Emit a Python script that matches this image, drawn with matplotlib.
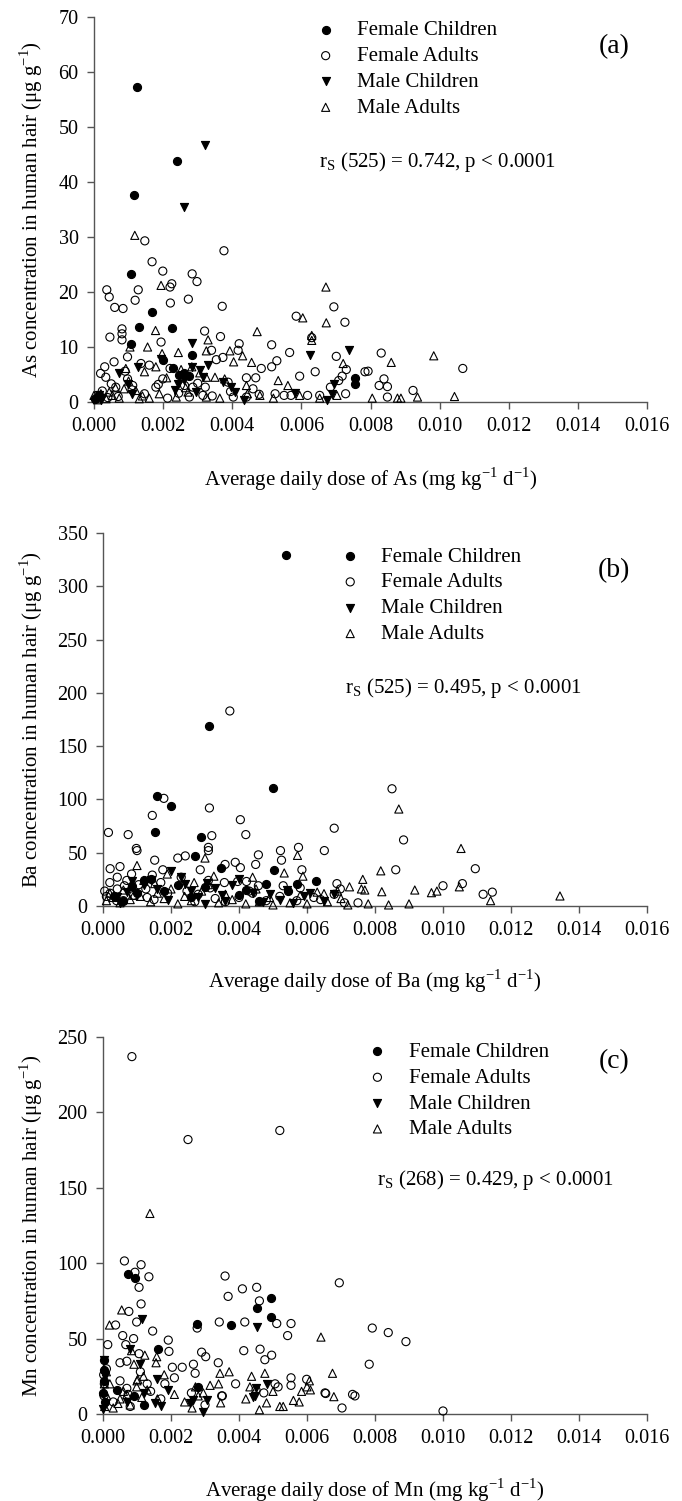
import matplotlib
matplotlib.use("Agg")
import matplotlib.pyplot as plt
from matplotlib.ticker import FormatStrFormatter, MultipleLocator

plt.rcParams['font.family'] = ['Liberation Serif', 'DejaVu Serif']
plt.rcParams['mathtext.fontset'] = 'custom'
plt.rcParams['mathtext.rm'] = 'Liberation Serif'

# ---------------- (a) As ----------------
as_fc_x = [0.00125, 0.00116, 0.00241, 0.00107, 0.00167, 0.00129, 0.00225, 0.00107, 0.00284, 0.00200,
           0.00228, 0.00247, 0.00275, 0.00754, 0.00754, 0.00015, 0.00002, 0.00260]
as_fc_y = [57.3, 37.7, 43.8, 23.2, 16.4, 13.6, 13.4, 10.6, 8.6, 7.6, 6.2, 4.9, 4.7, 4.4, 3.3, 1.2, 0.6, 5.2]

as_fa_x = [0.00037, 0.00044, 0.00060, 0.00084, 0.00046, 0.00081, 0.00081, 0.00081, 0.00119, 0.00128,
           0.00147, 0.00168, 0.00199, 0.00220, 0.00225, 0.00221, 0.00273, 0.00284, 0.00298, 0.00371,
           0.00376, 0.00320, 0.00366, 0.00420, 0.00194, 0.00514, 0.00585, 0.00630, 0.00694, 0.00726,
           0.00566, 0.00514, 0.00529, 0.00484, 0.00468, 0.00441, 0.00595, 0.00640, 0.00701, 0.00718,
           0.00730, 0.00708, 0.00684, 0.00784, 0.00793, 0.00831, 0.00839, 0.00825, 0.00849, 0.00849,
           0.00923, 0.01067, 0.00354, 0.00373, 0.00340, 0.00417, 0.00058, 0.00097, 0.00031, 0.00019,
           0.00034, 0.00050, 0.00063, 0.00136, 0.00160, 0.00179, 0.00199, 0.00220, 0.00262, 0.00286,
           0.00322, 0.00315, 0.00388, 0.00403, 0.00478, 0.00524, 0.00550, 0.00570, 0.00618, 0.00653,
           0.00728, 0.00146, 0.00112, 0.00097, 0.00213, 0.00276, 0.00441, 0.00005, 0.00024, 0.00070,
           0.00110, 0.00186, 0.00245, 0.00300, 0.00342, 0.00395, 0.00460, 0.00040, 0.00090]
as_fa_y = [20.4, 19.1, 17.2, 17.0, 11.8, 13.3, 12.4, 11.3, 18.5, 20.4,
           29.3, 25.5, 23.8, 20.9, 21.5, 18.0, 18.7, 23.3, 21.9, 17.4,
           27.5, 12.9, 11.9, 10.6, 10.9, 10.4, 15.6, 11.7, 17.3, 14.5,
           9.0, 6.4, 7.5, 6.1, 4.4, 4.4, 4.7, 5.5, 8.3, 4.7,
           5.9, 3.9, 2.7, 5.5, 5.6, 8.9, 4.2, 3.0, 2.8, 0.9,
           2.1, 6.1, 7.7, 8.1, 9.4, 9.4, 7.3, 8.2, 6.4, 5.2,
           4.5, 3.3, 2.7, 7.0, 6.7, 2.7, 4.2, 6.1, 3.0, 2.7,
           2.7, 1.2, 3.6, 0.9, 1.4, 1.5, 1.2, 1.2, 1.2, 1.2,
           1.5, 1.5, 3.0, 4.2, 0.7, 0.9, 0.9, 0.6, 2.0, 1.0,
           2.2, 3.2, 1.6, 3.4, 1.1, 1.9, 2.4, 0.8, 5.6]

as_mc_x = [0.00322, 0.00259, 0.00284, 0.00626, 0.00737, 0.00128, 0.00071, 0.00097, 0.00109, 0.00233,
           0.00243, 0.00284, 0.00306, 0.00315, 0.00296, 0.00373, 0.00395, 0.00407, 0.00435, 0.00582,
           0.00674, 0.00689, 0.00694, 0.00015, 0.00020, 0.00194, 0.00260, 0.00330]
as_mc_y = [46.8, 35.5, 10.8, 8.5, 9.4, 6.4, 5.2, 3.3, 1.5, 2.1,
           3.3, 6.4, 5.8, 4.5, 1.8, 3.6, 2.8, 1.9, 0.3, 1.6,
           0.4, 1.5, 3.3, 1.2, 0.3, 7.9, 4.0, 6.8]

as_ma_x = [0.00118, 0.00194, 0.00671, 0.00604, 0.00672, 0.00630, 0.00630, 0.00472, 0.00330, 0.00178,
           0.00155, 0.00104, 0.00244, 0.00197, 0.00325, 0.00393, 0.00430, 0.00404, 0.00456, 0.00721,
           0.00860, 0.00983, 0.00533, 0.00561, 0.00179, 0.00146, 0.00092, 0.00121, 0.00087, 0.00044,
           0.00020, 0.00000, 0.00252, 0.00283, 0.00325, 0.00350, 0.00378, 0.00441, 0.00444, 0.00480,
           0.00519, 0.00595, 0.00653, 0.00703, 0.00805, 0.00888, 0.00936, 0.01043, 0.00878, 0.00325,
           0.00364, 0.00238, 0.00160, 0.00131, 0.00073, 0.00053, 0.00272, 0.00189, 0.00306, 0.00010,
           0.00035, 0.00062, 0.00100, 0.00140, 0.00210, 0.00265]
as_ma_y = [30.3, 21.2, 20.9, 15.3, 14.4, 12.1, 11.2, 12.8, 11.3, 13.0,
           10.0, 10.0, 9.0, 8.8, 9.3, 9.3, 8.4, 7.3, 7.2, 7.0,
           7.2, 8.4, 3.9, 3.0, 6.4, 5.5, 6.1, 2.1, 2.4, 1.8,
           1.5, 1.2, 5.9, 6.4, 4.5, 4.5, 4.2, 3.0, 1.5, 1.2,
           0.7, 1.2, 0.7, 1.2, 0.7, 0.7, 0.9, 1.0, 0.7, 0.9,
           0.7, 0.9, 0.7, 0.6, 0.7, 1.2, 1.8, 1.5, 5.3, 0.4,
           0.6, 2.6, 3.8, 1.1, 4.4, 2.6]

# ---------------- (b) Ba ----------------
ba_fc_x = [0.00538, 0.00312, 0.00160, 0.00200, 0.00500, 0.00152, 0.00289, 0.00271, 0.00347, 0.00502,
           0.00478, 0.00572, 0.00625, 0.00544, 0.00032, 0.00084, 0.00120, 0.00180, 0.00220, 0.00400,
           0.00060, 0.00100, 0.00140, 0.00260, 0.00300, 0.00420, 0.00460]
ba_fc_y = [329, 169, 103, 94, 111, 69, 65, 47, 36, 34,
           21, 21, 23, 14, 9, 19, 24, 14, 20, 10,
           5, 12, 25, 8, 18, 15, 5]

ba_fa_x = [0.00373, 0.00850, 0.00179, 0.00145, 0.00313, 0.00404, 0.00420, 0.00320, 0.00016, 0.00074,
           0.00680, 0.00884, 0.00651, 0.00575, 0.00522, 0.00525, 0.00457, 0.00449, 0.00098, 0.00100,
           0.00152, 0.00220, 0.00242, 0.00310, 0.00310, 0.00021, 0.00050, 0.00042, 0.00145, 0.00084,
           0.00176, 0.00286, 0.00359, 0.00389, 0.00404, 0.00396, 0.00422, 0.00430, 0.00457, 0.00585,
           0.00580, 0.00530, 0.00688, 0.00698, 0.00861, 0.01000, 0.01095, 0.01057, 0.01118, 0.01145,
           0.00042, 0.00105, 0.00315, 0.00357, 0.00247, 0.00126, 0.00063, 0.00021, 0.00005, 0.00010,
           0.00060, 0.00150, 0.00270, 0.00330, 0.00480, 0.00640, 0.00750, 0.00020, 0.00040, 0.00070,
           0.00090, 0.00130, 0.00170, 0.00190, 0.00230, 0.00280, 0.00310, 0.00360, 0.00400, 0.00440,
           0.00520, 0.00570, 0.00620, 0.00680, 0.00710]
ba_fa_y = [183, 110, 101, 85, 92, 81, 67, 66, 69, 67,
           73, 62, 52, 55, 52, 43, 48, 39, 54, 52,
           43, 45, 47, 55, 52, 35, 37, 27, 29, 30,
           34, 34, 39, 41, 36, 23, 23, 14, 19, 34,
           17, 19, 21, 16, 34, 19, 35, 21, 11, 13,
           16, 20, 17, 22, 14, 16, 19, 12, 14, 9,
           5, 6, 4, 7, 5, 6, 3, 22, 5, 24,
           10, 8, 22, 12, 27, 11, 24, 4, 8, 12,
           9, 5, 8, 11, 3]

ba_mc_x = [0.00200, 0.00084, 0.00400, 0.00490, 0.00590, 0.00610, 0.00680, 0.00120, 0.00160, 0.00240,
           0.00280, 0.00330, 0.00360, 0.00440, 0.00520, 0.00560, 0.00650, 0.00040, 0.00070, 0.00300,
           0.00050, 0.00100, 0.00140, 0.00190, 0.00230, 0.00260, 0.00305, 0.00350, 0.00380, 0.00470,
           0.00540]
ba_mc_y = [33, 23, 25, 11, 9, 12, 11, 20, 16, 21,
           8, 17, 5, 12, 6, 3, 5, 8, 13, 2,
           3, 10, 24, 6, 27, 14, 22, 10, 20, 4,
           15]

ba_ma_x = [0.00870, 0.01053, 0.00817, 0.00764, 0.00760, 0.00917, 0.00966, 0.00982, 0.01048, 0.00820,
           0.00770, 0.00725, 0.00650, 0.00690, 0.01344, 0.00572, 0.00300, 0.00100, 0.00533, 0.00588,
           0.00440, 0.00326, 0.00268, 0.00189, 0.00152, 0.00084, 0.00010, 0.00030, 0.00050, 0.00080,
           0.00110, 0.00140, 0.00180, 0.00220, 0.00260, 0.00340, 0.00380, 0.00420, 0.00460, 0.00500,
           0.00550, 0.00600, 0.00660, 0.00720, 0.00780, 0.00840, 0.00900, 0.01140, 0.00020, 0.00060,
           0.00090, 0.00120, 0.00160, 0.00200, 0.00240, 0.00290, 0.00310, 0.00360, 0.00450, 0.00490,
           0.00580, 0.00630, 0.00700]
ba_ma_y = [91, 54, 33, 25, 16, 15, 12.5, 14, 18, 13.4,
           15, 18, 11.6, 14, 9.4, 47.5, 45, 38, 31, 28,
           27, 28, 22, 30, 21, 19, 5, 8, 3, 6,
           9, 4, 7, 2, 5, 3, 6, 2, 4, 1,
           3, 2, 4, 1, 2, 1, 2, 5, 12, 15,
           10, 24, 12, 16, 9, 14, 20, 11, 16, 8,
           10, 13, 7]

# ---------------- (c) Mn ----------------
mn_fc_x = [0.00073, 0.00094, 0.00163, 0.00275, 0.00376, 0.00452, 0.00493, 0.00493, 0.00040, 0.00004,
           0.00004, 0.00280, 0.00002, 0.00006, 0.00001, 0.00090, 0.00120]
mn_fc_y = [93, 90, 43, 60, 59, 70, 77, 64, 16, 36,
           29, 18, 22, 8, 14, 12, 6]

mn_fa_x = [0.00085, 0.00250, 0.00520, 0.00063, 0.00112, 0.00094, 0.00106, 0.00135, 0.00112, 0.00076,
           0.00099, 0.00037, 0.00146, 0.00058, 0.00090, 0.00067, 0.00014, 0.00192, 0.00194, 0.00106,
           0.00050, 0.00070, 0.00204, 0.00233, 0.00277, 0.00266, 0.00271, 0.00290, 0.00302, 0.00342,
           0.00359, 0.00368, 0.00410, 0.00452, 0.00460, 0.00417, 0.00414, 0.00462, 0.00476, 0.00496,
           0.00511, 0.00553, 0.00543, 0.00695, 0.00792, 0.00839, 0.00891, 0.00783, 0.00553, 0.00553,
           0.00599, 0.00653, 0.00734, 0.00339, 0.00349, 0.00473, 0.00506, 0.00515, 0.00182, 0.00070,
           0.00074, 0.01000, 0.00655, 0.00703, 0.00741, 0.00351, 0.00130, 0.00002, 0.00004, 0.00003,
           0.00010, 0.00030, 0.00050, 0.00080, 0.00110, 0.00140, 0.00170, 0.00210, 0.00260, 0.00300,
           0.00390, 0.00450]
mn_fa_y = [237, 182, 188, 101.5, 99, 94, 84, 91, 73, 68,
           61, 59, 55, 52, 50, 46, 46, 49, 41.5, 40,
           34, 35, 31, 31, 57, 33, 27, 41, 38, 61,
           91.5, 78, 83, 84, 75, 61, 42, 43, 36, 39,
           60, 60, 52, 87, 57, 54, 48, 33, 24, 19,
           23, 14, 13, 34, 12, 14, 20, 18, 20, 17,
           13, 2, 13.6, 4, 12, 12, 20, 26, 20, 12,
           30, 8, 22, 5, 28, 15, 10, 24, 14, 6,
           20, 16]

mn_mc_x = [0.00114, 0.00452, 0.00079, 0.00109, 0.00158, 0.00190, 0.00003, 0.00266, 0.00305, 0.00447,
           0.00451, 0.00481, 0.00257, 0.00293, 0.00154, 0.00441, 0.00001, 0.00005, 0.00070, 0.00120,
           0.00170]
mn_mc_y = [63, 58, 43, 33, 23, 16, 36, 9, 9, 12,
           17, 20, 7, 1, 7, 11, 3, 25, 8, 14,
           5]

mn_ma_x = [0.00138, 0.00055, 0.00019, 0.00641, 0.00675, 0.00084, 0.00123, 0.00158, 0.00156, 0.00091,
           0.00119, 0.00344, 0.00371, 0.00315, 0.00272, 0.00295, 0.00437, 0.00476, 0.00432, 0.00607,
           0.00584, 0.00610, 0.00679, 0.00011, 0.00050, 0.00099, 0.00114, 0.00460, 0.00481, 0.00520,
           0.00530, 0.00577, 0.00346, 0.00262, 0.00102, 0.00044, 0.00004, 0.00002, 0.00005, 0.00070,
           0.00010, 0.00020, 0.00030, 0.00060, 0.00080, 0.00100, 0.00130, 0.00160, 0.00180, 0.00210,
           0.00240, 0.00280, 0.00340, 0.00420, 0.00500, 0.00560, 0.00600]
mn_ma_y = [133, 69, 59, 51, 27, 42, 39, 38, 34, 33,
           25, 27, 28, 19, 18, 14, 25, 27, 18, 22,
           15, 16, 11.5, 12, 10, 18, 11, 2.8, 7.4, 5,
           5, 8, 7.4, 4, 23, 7, 20, 15, 5, 13,
           28, 20, 4, 15, 6, 22, 16, 10, 26, 13,
           8, 12, 20, 10, 15, 9, 18]

panels = [
    dict(fc=(as_fc_x, as_fc_y), fa=(as_fa_x, as_fa_y), mc=(as_mc_x, as_mc_y), ma=(as_ma_x, as_ma_y),
         rect=[94, 17, 647, 402], ymax=70, ystep=10, el='As', tag='(a)',
         stat=r'r$_\mathregular{S}$ (525) = 0.742, p < 0.0001',
         leg=(0.385, 1.012), statpos=(0.407, 0.623), tagpos=(0.94, 0.922)),
    dict(fc=(ba_fc_x, ba_fc_y), fa=(ba_fa_x, ba_fa_y), mc=(ba_mc_x, ba_mc_y), ma=(ba_ma_x, ba_ma_y),
         rect=[103, 533, 647, 906], ymax=350, ystep=50, el='Ba', tag='(b)',
         stat=r'r$_\mathregular{S}$ (525) = 0.495, p < 0.0001',
         leg=(0.42, 0.985), statpos=(0.445, 0.584), tagpos=(0.939, 0.90)),
    dict(fc=(mn_fc_x, mn_fc_y), fa=(mn_fa_x, mn_fa_y), mc=(mn_mc_x, mn_mc_y), ma=(mn_ma_x, mn_ma_y),
         rect=[103, 1037, 647, 1414], ymax=250, ystep=50, el='Mn', tag='(c)',
         stat=r'r$_\mathregular{S}$ (268) = 0.429, p < 0.0001',
         leg=(0.47, 1.008), statpos=(0.504, 0.621), tagpos=(0.939, 0.934)),
]

W, H = 682, 1501
fig = plt.figure(figsize=(W / 100, H / 100), dpi=100)
axcol = '#555555'

for p in panels:
    l, t, r, b = p['rect']
    ax = fig.add_axes([l / W, (H - b) / H, (r - l) / W, (b - t) / H])
    ms = 34
    h1 = ax.scatter(*p['fc'], s=ms, marker='o', facecolors='black', edgecolors='black', linewidths=0.8,
                    clip_on=False, zorder=3, label='Female Children')
    h2 = ax.scatter(*p['fa'], s=ms, marker='o', facecolors='none', edgecolors='black', linewidths=0.8,
                    clip_on=False, zorder=3, label='Female Adults')
    h3 = ax.scatter(*p['mc'], s=ms, marker='v', facecolors='black', edgecolors='black', linewidths=0.8,
                    clip_on=False, zorder=3, label='Male Children')
    h4 = ax.scatter(*p['ma'], s=ms, marker='^', facecolors='none', edgecolors='black', linewidths=0.8,
                    clip_on=False, zorder=3, label='Male Adults')

    ax.set_xlim(0, 0.016)
    ax.set_ylim(0, p['ymax'])
    ax.xaxis.set_major_locator(MultipleLocator(0.002))
    ax.yaxis.set_major_locator(MultipleLocator(p['ystep']))
    ax.xaxis.set_major_formatter(FormatStrFormatter('%.3f'))
    for s in ['top', 'right']:
        ax.spines[s].set_visible(False)
    for s in ['left', 'bottom']:
        ax.spines[s].set_color(axcol)
        ax.spines[s].set_linewidth(1.0)
    ax.tick_params(direction='out', length=5, width=1.0, color=axcol, labelsize=14.5, pad=6)

    ax.set_ylabel(p['el'] + r' concentration in human hair ($\mathregular{\mu}$g g$^{\mathregular{-1}}$)',
                  fontsize=15)
    ax.yaxis.set_label_coords(-(l - 45) / (r - l), 0.5)
    ax.set_xlabel('Average daily dose of ' + p['el'] + r' (mg kg$^{\mathregular{-1}}$ d$^{\mathregular{-1}}$)',
                  fontsize=15)
    ax.xaxis.set_label_coords(0.5, -0.165)

    ax.legend(handles=[h1, h2, h3, h4], loc='upper left', bbox_to_anchor=p['leg'], frameon=False,
              fontsize=15, handletextpad=1.0, labelspacing=0.3, handlelength=1.0, borderaxespad=0)
    ax.text(*p['statpos'], p['stat'], transform=ax.transAxes, fontsize=15, va='center', ha='left')
    ax.text(*p['tagpos'], p['tag'], transform=ax.transAxes, fontsize=20, va='center', ha='center')

fig.savefig('out.png', dpi=100)
